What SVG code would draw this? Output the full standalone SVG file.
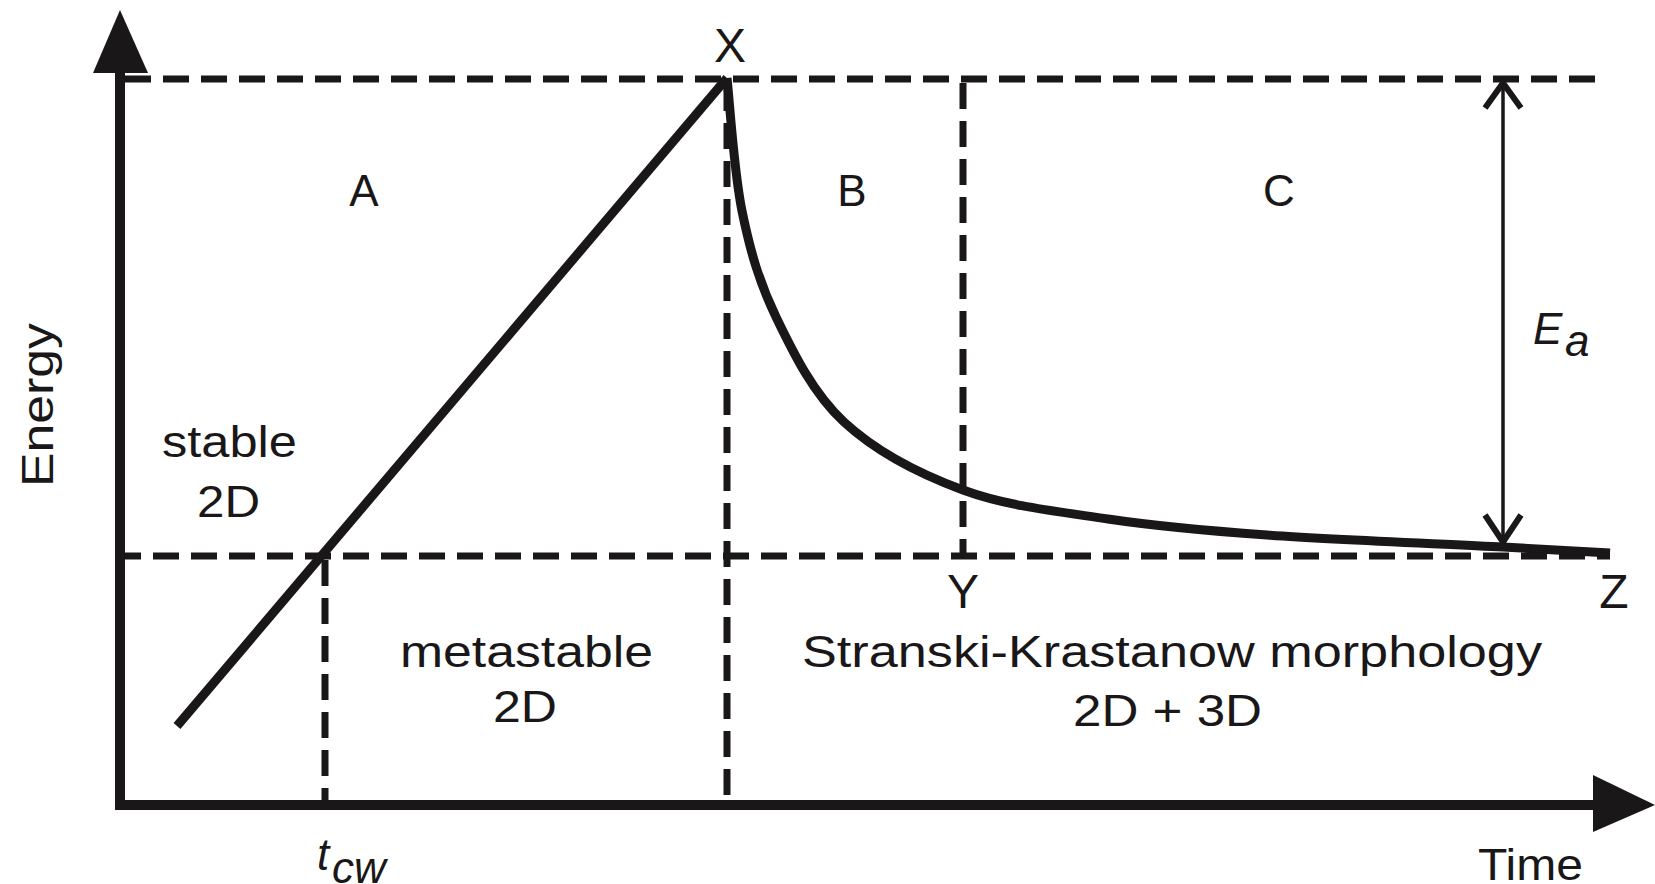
<svg xmlns="http://www.w3.org/2000/svg" width="1655" height="884" viewBox="0 0 1655 884">
<style>
text{font-family:"Liberation Sans",Arial,sans-serif;fill:#1a1718;font-size:44px}
.lbl{font-size:48px}
.dash{fill:none;stroke:#1a1718;stroke-width:7;stroke-dasharray:26 12}
.axis{fill:none;stroke:#1a1718;stroke-width:10}
.curve{fill:none;stroke:#1a1718;stroke-width:9;stroke-linejoin:round;stroke-linecap:butt}
.head{fill:#1a1718;stroke:none}
.ea{fill:none;stroke:#1a1718;stroke-width:3.5}
.eah{fill:none;stroke:#1a1718;stroke-width:6;stroke-linejoin:miter}
</style>
<rect width="1655" height="884" fill="#ffffff"/>
<g id="connectors">
  <line class="dash" x1="125" y1="79" x2="1607" y2="79"/>
  <line class="dash" x1="115" y1="556" x2="1610" y2="556"/>
  <line class="dash" x1="325" y1="560" x2="325" y2="800"/>
  <line class="dash" x1="727" y1="85" x2="727" y2="800"/>
  <line class="dash" x1="963" y1="83" x2="963" y2="553"/>
</g>
<g id="axes">
  <line class="axis" x1="120" y1="70" x2="120" y2="810"/>
  <line class="axis" x1="115" y1="805" x2="1596" y2="805"/>
  <polygon class="head" points="120,10 148,73 93,73"/>
  <polygon class="head" points="1655,805 1593,775 1593,832"/>
</g>
<g id="line-A">
  <line class="curve" x1="177" y1="726" x2="727" y2="78" stroke-width="10"/>
</g>
<g id="decay-curve">
  <path class="curve" d="M727,78 C729.5,100.2 733.8,171.2 742,211 C750.2,250.8 759,281.8 776,317 C793,352.2 812.8,393.2 844,422 C875.2,450.8 919,473.8 963,490 C1007,506.2 1057.3,511.5 1108,519 C1158.7,526.5 1201.2,530.3 1267,535 C1332.8,539.7 1445.8,544 1503,547 C1560.2,550 1592.2,552 1610,553"/>
</g>
<g id="Ea-arrow">
  <line class="ea" x1="1503" y1="86" x2="1503" y2="540"/>
  <polyline class="eah" points="1485,108 1503,83 1521,108"/>
  <polyline class="eah" points="1485,515 1503,542 1521,515"/>
  <text x="1533" y="344" font-style="italic" font-size="46">E</text>
  <text x="1565" y="356" font-style="italic" font-size="32">a</text>
</g>
<g id="point-labels">
  <text class="lbl" x="730" y="62" text-anchor="middle">X</text>
  <text class="lbl" x="963" y="608" text-anchor="middle">Y</text>
  <text class="lbl" x="1614" y="608" text-anchor="middle">Z</text>
</g>
<g id="region-labels">
  <text x="364" y="206" text-anchor="middle" font-size="46">A</text>
  <text x="852" y="206" text-anchor="middle" font-size="46">B</text>
  <text x="1279" y="206" text-anchor="middle" font-size="46">C</text>
</g>
<g id="stable">
  <text x="162" y="457" textLength="135" lengthAdjust="spacingAndGlyphs">stable</text>
  <text x="197" y="517" textLength="63" lengthAdjust="spacingAndGlyphs">2D</text>
</g>
<g id="metastable">
  <text x="400" y="667" textLength="253" lengthAdjust="spacingAndGlyphs">metastable</text>
  <text x="493" y="722" textLength="64" lengthAdjust="spacingAndGlyphs">2D</text>
</g>
<g id="sk-morphology">
  <text x="802" y="667" textLength="740" lengthAdjust="spacingAndGlyphs">Stranski-Krastanow morphology</text>
  <text x="1073" y="726" textLength="189" lengthAdjust="spacingAndGlyphs">2D + 3D</text>
</g>
<g id="axis-labels">
  <text transform="translate(53,405) rotate(-90)" text-anchor="middle" textLength="164" lengthAdjust="spacingAndGlyphs">Energy</text>
  <text x="1478" y="880" textLength="105" lengthAdjust="spacingAndGlyphs">Time</text>
  <text x="317" y="870" font-style="italic" font-size="44">t</text>
  <text x="332" y="883" font-style="italic" font-size="32">cw</text>
</g>
</svg>
